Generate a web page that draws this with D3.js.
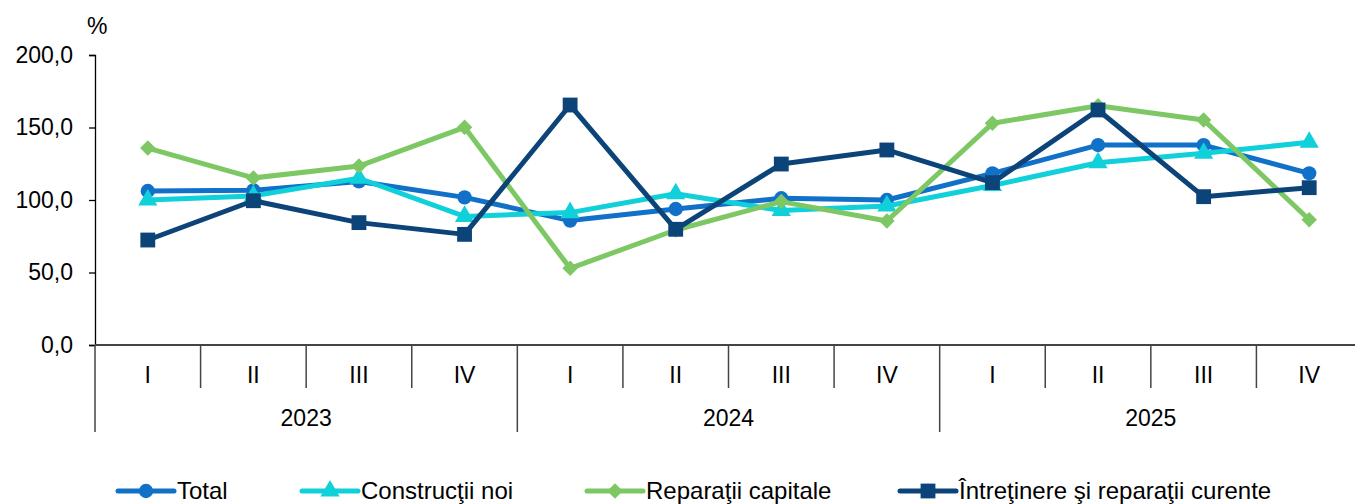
<!DOCTYPE html>
<html>
<head>
<meta charset="utf-8">
<script src="https://cdn.jsdelivr.net/npm/d3@7"></script>
<style>
  body { margin: 0; background: #fff; }
  text { font-family: "Liberation Sans", Arial, sans-serif; fill: #000; }
</style>
</head>
<body>
<svg id="chart" width="1355" height="504"></svg>
<script>
// data
var years = ["2023", "2024", "2025"];
var quarters = ["I", "II", "III", "IV"];
var yTicks = [0, 50, 100, 150, 200];

var total       = [106.2, 106.7, 112.8, 101.8, 85.8, 93.8, 101.2, 100.0, 118.4, 137.9, 137.9, 118.4];
var construct   = [100.0, 102.8, 115.0, 88.7, 91.3, 104.3, 92.8, 95.9, 110.0, 125.7, 132.2, 139.8];
var reparatii   = [135.8, 115.2, 123.4, 150.1, 52.9, 79.3, 98.9, 85.5, 152.9, 165.0, 155.2, 86.4];
var intretinere = [72.4, 99.5, 84.4, 76.3, 165.5, 79.8, 124.8, 134.5, 112.0, 162.1, 102.3, 108.5];

var series = [
  {name: "Total", values: total, color: "#1170c8", marker: "circle"},
  {name: "Construcţii noi", values: construct, color: "#10d0da", marker: "triangle"},
  {name: "Reparaţii capitale", values: reparatii, color: "#7dc864", marker: "diamond"},
  {name: "Întreţinere şi reparaţii curente", values: intretinere, color: "#0c4479", marker: "square"}
];

var svg = d3.select("#chart");
// plot area runs a little past the right edge, as in the original
var mLeft = 95, mRight = 1362, mTop = 55, mBottom = 345;

// one slot per quarter
var cats = [];
years.forEach(function(yr) { quarters.forEach(function(q) { cats.push(yr + "-" + q); }); });

var x = d3.scaleBand().domain(cats).range([mLeft, mRight]);
var y = d3.scaleLinear().domain([0, 200]).range([mBottom, mTop]);

var fmt = function(v) { return d3.format(".1f")(v).replace(".", ","); };

// y axis
var yAxis = svg.append("g")
    .attr("transform", "translate(" + mLeft + ",0)")
    .call(d3.axisLeft(y).tickValues(yTicks).tickSize(6).tickPadding(16).tickFormat(fmt));
yAxis.select(".domain").attr("stroke", "#000").attr("stroke-width", 1.3);
yAxis.selectAll(".tick line").attr("stroke", "#000").attr("stroke-width", 1.3);
yAxis.selectAll("text").style("font-size", "23px").attr("font-family", "Liberation Sans, Arial, sans-serif");

svg.append("text").attr("x", 87).attr("y", 34).style("font-size", "23px").text("%");

// x axis: baseline, quarter separators, year separators
var axisCol = "#444";
svg.append("line").attr("x1", mLeft).attr("x2", mRight).attr("y1", mBottom).attr("y2", mBottom)
    .attr("stroke", axisCol).attr("stroke-width", 2);

cats.forEach(function(c, i) {
  var xs = x(c);
  var isYear = i % 4 === 0;
  svg.append("line").attr("x1", xs).attr("x2", xs).attr("y1", mBottom)
      .attr("y2", isYear ? 432 : 388).attr("stroke", axisCol).attr("stroke-width", 1.5);
  svg.append("text").attr("x", xs + x.bandwidth() / 2).attr("y", 383)
      .attr("text-anchor", "middle").style("font-size", "23px").text(c.split("-")[1]);
});

years.forEach(function(yr) {
  var x0 = x(yr + "-I"), x1 = x(yr + "-IV") + x.bandwidth();
  svg.append("text").attr("x", (x0 + x1) / 2).attr("y", 426)
      .attr("text-anchor", "middle").style("font-size", "23px").text(yr);
});

// lines
var line = d3.line()
    .x(function(d, i) { return x(cats[i]) + x.bandwidth() / 2; })
    .y(function(d) { return y(d); });

var symbolOf = {
  circle: d3.symbol().type(d3.symbolCircle).size(160),
  triangle: d3.symbol().type(d3.symbolTriangle).size(160),
  diamond: d3.symbol().type(d3.symbolSquare).size(120),
  square: d3.symbol().type(d3.symbolSquare).size(220)
};

function drawMarker(g, s, cx, cy) {
  return g.append("path").attr("d", symbolOf[s.marker]()).attr("fill", s.color)
      .attr("transform", "translate(" + cx + "," + cy + ")" + (s.marker === "diamond" ? " rotate(45)" : ""));
}

series.forEach(function(s) {
  svg.append("path").datum(s.values)
      .attr("d", line).attr("fill", "none").attr("stroke", s.color)
      .attr("stroke-width", 5).attr("stroke-linejoin", "round");
  var g = svg.append("g");
  s.values.forEach(function(v, i) {
    drawMarker(g, s, x(cats[i]) + x.bandwidth() / 2, y(v));
  });
});

// legend
var legendX = [118, 302, 587, 900];
series.forEach(function(s, i) {
  var lx = legendX[i], ly = 491;
  var g = svg.append("g");
  g.append("line").attr("x1", lx).attr("x2", lx + 56).attr("y1", ly).attr("y2", ly)
      .attr("stroke", s.color).attr("stroke-width", 5).attr("stroke-linecap", "round");
  drawMarker(g, s, lx + 28, ly);
  g.append("text").attr("x", lx + 59).attr("y", ly + 8).style("font-size", "24px").text(s.name);
});
</script>
</body>
</html>
